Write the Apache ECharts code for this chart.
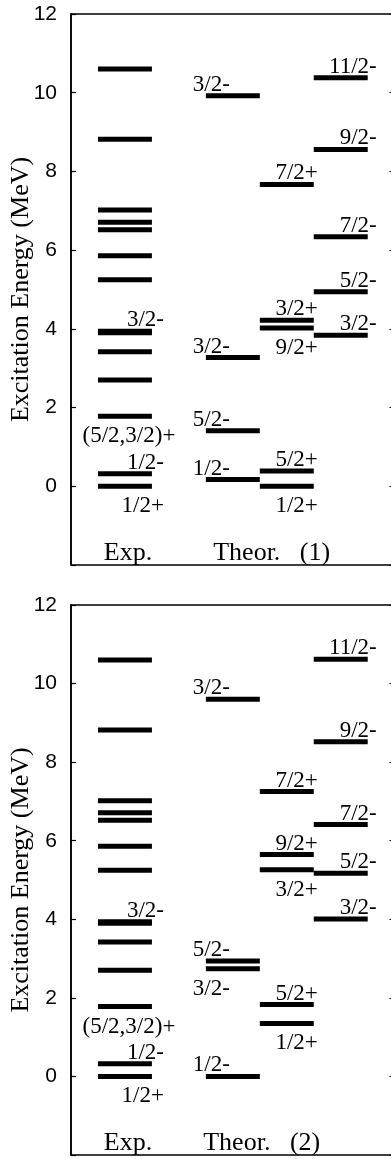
<!DOCTYPE html>
<html><head><meta charset="utf-8">
<script src="https://cdn.jsdelivr.net/npm/echarts@6/dist/echarts.min.js"></script>
<style>html,body{margin:0;padding:0;background:#fff;}#c{width:391px;height:1159px;}</style>
</head><body><div id="c"></div>
<script>
// ---------- data ----------
const yTickLabels = ['0', '2', '4', '6', '8', '10', '12'];
const yAxisTitle = 'Excitation Energy (MeV)';

// Experimental levels (same in both panels)
const expEnergies  = [0, 0.32, 1.78, 2.70, 3.42, 3.90, 3.94, 5.25, 5.86, 6.52, 6.71, 7.02, 8.82, 10.60];
const expLabels    = ['1/2+', '1/2-', '(5/2,3/2)+', '', '', '', '3/2-', '', '', '', '', '', '', ''];
const expSides     = ['below', 'above', 'below', '', '', '', 'above', '', '', '', '', '', '', ''];

// Panel 1: Theor. (1)
const t1aEnergies = [0.17, 1.41, 3.27, 9.92];
const t1aLabels   = ['1/2-', '5/2-', '3/2-', '3/2-'];
const t1aSides    = ['above', 'above', 'above', 'above'];
const t1bEnergies = [0, 0.39, 4.02, 4.22, 7.67];
const t1bLabels   = ['1/2+', '5/2+', '9/2+', '3/2+', '7/2+'];
const t1bSides    = ['below', 'above', 'below', 'above', 'above'];
const t1cEnergies = [3.84, 4.94, 6.34, 8.56, 10.38];
const t1cLabels   = ['3/2-', '5/2-', '7/2-', '9/2-', '11/2-'];
const t1cSides    = ['above', 'above', 'above', 'above', 'above'];

// Panel 2: Theor. (2)
const t2aEnergies = [0, 2.74, 2.94, 9.60];
const t2aLabels   = ['1/2-', '3/2-', '5/2-', '3/2-'];
const t2aSides    = ['above', 'below', 'above', 'above'];
const t2bEnergies = [1.35, 1.83, 5.26, 5.65, 7.25];
const t2bLabels   = ['1/2+', '5/2+', '3/2+', '9/2+', '7/2+'];
const t2bSides    = ['below', 'above', 'below', 'above', 'above'];
const t2cEnergies = [4.01, 5.17, 6.41, 8.52, 10.62];
const t2cLabels   = ['3/2-', '5/2-', '7/2-', '9/2-', '11/2-'];
const t2cSides    = ['above', 'above', 'above', 'above', 'above'];

const panel1Titles = ['Exp.', 'Theor.   (1)'];
const panel2Titles = ['Exp.', 'Theor.   (2)'];

// ---------- layout ----------
const COLS = {
  exp: {x0: 0.5, x1: 1.5, mode: 'expRight', dx: 12},
  a:   {x0: 2.5, x1: 3.5, mode: 'left', dx: -13},
  b:   {x0: 3.5, x1: 4.5, mode: 'right', dx: 4},
  c:   {x0: 4.5, x1: 5.5, mode: 'right', dx: 9}
};
const TITLE_X = [[1.057, 3.72], [1.057, 3.535]];
const BAR_H = 5;
const LABEL_FONT = '23px "Liberation Serif", "Times New Roman", serif';
const TITLE_FONT = '26px "Liberation Serif", "Times New Roman", serif';
const GRID_W = 322.5;
const X_MAX = 5.95 * GRID_W / 321;

function levelSeries(g, colKey, energies, labels, sides) {
  const col = COLS[colKey];
  return {
    type: 'custom', coordinateSystem: 'cartesian2d',
    xAxisIndex: g, yAxisIndex: g * 2, clip: false, silent: true,
    data: energies.map((e, i) => [col.x0, col.x1, e, i]),
    encode: {x: [0, 1], y: 2},
    renderItem: function (params, api) {
      const i = api.value(3);
      const p0 = api.coord([api.value(0), api.value(2)]);
      const p1 = api.coord([api.value(1), api.value(2)]);
      const children = [{
        type: 'rect',
        shape: {x: p0[0], y: p0[1] - BAR_H / 2, width: p1[0] - p0[0], height: BAR_H},
        style: {fill: '#000'}
      }];
      const t = labels[i];
      if (t) {
        let x, align;
        if (col.mode === 'left') { x = p0[0] + col.dx; align = 'left'; }
        else if (col.mode === 'right') { x = p1[0] + col.dx; align = 'right'; }
        else {
          if (t.length > 6) { x = (p0[0] + p1[0]) / 2 + 4; align = 'center'; }
          else { x = p1[0] + col.dx; align = 'right'; }
        }
        const y = sides[i] === 'below' ? p0[1] + 20 : p0[1] - 11;
        children.push({
          type: 'text', x: x, y: y,
          style: {text: t, font: LABEL_FONT, fill: '#000', align: align, verticalAlign: 'middle'}
        });
      }
      return {type: 'group', children: children};
    }
  };
}

function titleSeries(g, titles) {
  return {
    type: 'custom', coordinateSystem: 'cartesian2d',
    xAxisIndex: g, yAxisIndex: g * 2, clip: false, silent: true,
    data: titles.map((t, i) => [TITLE_X[g][i], -2, i]),
    renderItem: function (params, api) {
      const i = api.value(2);
      const p = api.coord([api.value(0), api.value(1)]);
      return {
        type: 'text', x: p[0], y: p[1] - 12,
        style: {text: titles[i], font: TITLE_FONT, fill: '#000', align: 'center', verticalAlign: 'middle'}
      };
    }
  };
}

const grids = [
  {left: 71, top: 14, width: GRID_W, height: 551},
  {left: 71, top: 605, width: GRID_W, height: 550}
].map(g => Object.assign(g, {
  show: true, borderColor: '#000', borderWidth: 1.5, backgroundColor: 'transparent',
  containLabel: false, outerBoundsMode: 'none'
}));

const xAxes = [0, 1].map(g => ({
  type: 'value', gridIndex: g, min: 0, max: X_MAX, show: false
}));

const yAxes = [];
[0, 1].forEach(g => {
  yAxes.push({
    type: 'value', gridIndex: g, position: 'left', min: -2, max: 12, interval: 2,
    name: yAxisTitle, nameLocation: 'middle', nameGap: 37, nameMoveOverlap: false,
    nameTextStyle: {fontFamily: '"Liberation Serif", "Times New Roman", serif', fontSize: 26, color: '#000'},
    axisLine: {show: true, lineStyle: {color: '#000', width: 1.5}},
    axisTick: {show: true, inside: true, length: 5, lineStyle: {color: '#000', width: 1.2}},
    axisLabel: {
      show: true, margin: 14, fontFamily: '"Liberation Sans", Arial, sans-serif', fontSize: 21, color: '#000',
      formatter: v => yTickLabels.includes(String(v)) ? String(v) : ''
    },
    splitLine: {show: false}
  });
  yAxes.push({
    type: 'value', gridIndex: g, position: 'right', min: -2, max: 12, interval: 2,
    axisLine: {show: false},
    axisTick: {show: true, inside: true, length: 4, lineStyle: {color: '#000', width: 1}},
    axisLabel: {show: false},
    splitLine: {show: false}
  });
});

const series = [
  levelSeries(0, 'exp', expEnergies, expLabels, expSides),
  levelSeries(0, 'a', t1aEnergies, t1aLabels, t1aSides),
  levelSeries(0, 'b', t1bEnergies, t1bLabels, t1bSides),
  levelSeries(0, 'c', t1cEnergies, t1cLabels, t1cSides),
  titleSeries(0, panel1Titles),
  levelSeries(1, 'exp', expEnergies, expLabels, expSides),
  levelSeries(1, 'a', t2aEnergies, t2aLabels, t2aSides),
  levelSeries(1, 'b', t2bEnergies, t2bLabels, t2bSides),
  levelSeries(1, 'c', t2cEnergies, t2cLabels, t2cSides),
  titleSeries(1, panel2Titles)
];

const chart = echarts.init(document.getElementById('c'), null, {renderer: 'canvas'});
chart.setOption({
  animation: false,
  backgroundColor: '#fff',
  grid: grids,
  xAxis: xAxes,
  yAxis: yAxes,
  series: series
});
</script>
</body></html>
